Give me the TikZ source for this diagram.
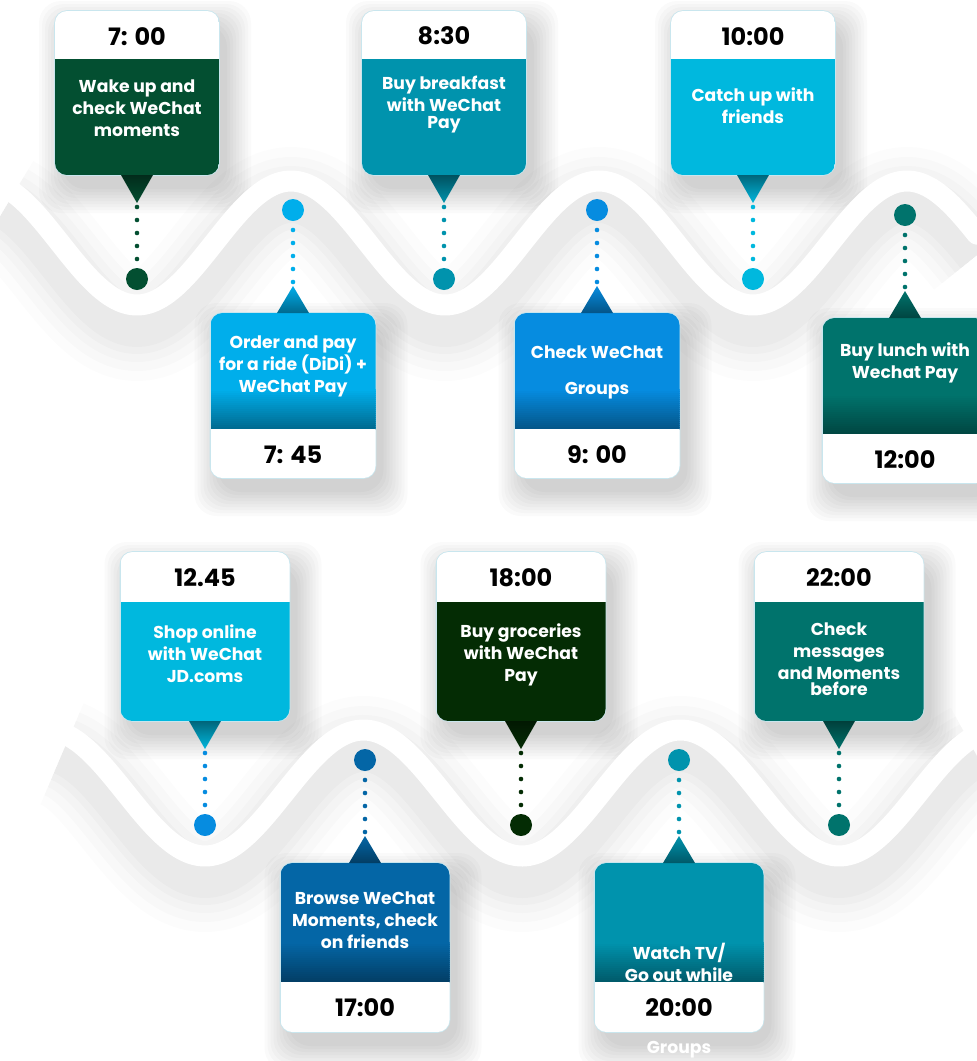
\documentclass[tikz,border=0pt]{standalone}
\usepackage{fontspec}
\setmainfont{Poppins}
\definecolor{forest}{HTML}{034F31}
\definecolor{sky}{HTML}{00AEEB}
\definecolor{teal}{HTML}{0093AD}
\definecolor{azure}{HTML}{068CE0}
\definecolor{aqua}{HTML}{00B8DE}
\definecolor{pine}{HTML}{00736C}
\definecolor{navy}{HTML}{0466A6}
\definecolor{night}{HTML}{042C04}
\definecolor{rim}{HTML}{C9E6EE}
\tikzset{
  cardshade/.style={black,opacity=0.02,rounded corners=22pt},
  cardline/.style={draw=rim,line width=1.6pt,rounded corners=12pt},
  timelbl/.style={font=\fontsize{24}{28}\selectfont\bfseries,text=black},
  actlbl/.style={font=\fontsize{17.2}{22}\selectfont\bfseries,text=white,align=center},
  dotline/.style={line width=4.6pt,line cap=round,dash pattern=on 0pt off 13pt},
  bead/.style={circle,inner sep=0pt,minimum size=22pt},
  wave/.style={line width=21pt,white,line cap=round},
}
\begin{document}
\begin{tikzpicture}[x=1pt,y=-1pt]
\useasboundingbox (0,0) rectangle (977,1061);
\fill[white] (0,0) rectangle (977,1061);
\begin{scope}
\clip (0,0) rectangle (977,1061);
% shadows of the cards
\foreach \cx/\ty/\s in {137/11/164,444/11/164,753/11/164,293/313/165,597/313/165,905/318/165,
  205/552/169,521/552/169,839/552/169,365/863/169,679/863/169}{
  \foreach \g in {0,...,8}
    \fill[cardshade] ({\cx-\s/2+8-\g*3},\ty+14-\g*3) rectangle ({\cx+\s/2+8+\g*3},\ty+\s+14+\g*3);
}
% shadows of the waves
\foreach \w/\o in {110/0.012,90/0.014,72/0.016,56/0.018,42/0.02}{
  \draw[line width=\w pt,black,opacity=\o] plot[domain=5:977,samples=150,smooth] (\x,{264+62*cos((\x-137)*1.16883)});
  \draw[line width=\w pt,black,opacity=\o] plot[domain=62:977,samples=150,smooth] (\x,{814+63*cos((\x-205)*1.13565)});
}
% waves
\draw[wave] plot[domain=5:977,samples=150,smooth] (\x,{243+62*cos((\x-137)*1.16883)});
\draw[wave] plot[domain=62:977,samples=150,smooth] (\x,{793+63*cos((\x-205)*1.13565)});
% cards above the waves
\foreach \n/\cx/\ty/\s/\col/\dc/\tm/\txt/\txy in {
  1/137/11/164/forest/forest/{7: 00}/{Wake up and\\check WeChat\\moments}/108,
  3/444/11/164/teal/teal/{8:30}/{Buy breakfast\\with WeChat\\[-5pt]Pay}/105,
  5/753/11/164/aqua/aqua/{10:00}/{Catch up with\\friends}/106,
  7/205/552/169/aqua/azure/{12.45}/{Shop online\\with WeChat\\JD.coms}/654,
  9/521/552/169/night/night/{18:00}/{Buy groceries\\with WeChat\\Pay}/655,
  11/839/552/169/pine/pine/{22:00}/{Check\\messages\\and Moments\\[-6pt]before}/659}{
  \pgfmathsetmacro\xl{\cx-\s/2}
  \pgfmathsetmacro\xr{\cx+\s/2}
  \pgfmathsetmacro\hb{\ty+0.295*\s}
  \pgfmathsetmacro\yb{\ty+\s}
  \draw[cardline] (\xl,\ty) rectangle (\xr,\yb);
  \begin{scope}
    \clip[rounded corners=12pt] (\xl,\ty) rectangle (\xr,\yb);
    \fill[white] (\xl,\ty) rectangle (\xr,\hb);
    \fill[\col] (\xl,\hb) rectangle (\xr,\yb);
  \end{scope}
  \shade[top color=\col!55!black,bottom color=\col] (\cx-16,\yb) -- (\cx+16,\yb) -- (\cx,\yb+28) -- cycle;
  \coordinate (tip\n) at (\cx,\yb+28);
  \node[bead,fill=\dc] (pt\n) at (\cx,\yb+104) {};
  \draw[dotline,\dc,shorten <=4pt,shorten >=8.5pt] (tip\n) -- (pt\n);
  \node[timelbl] (time\n) at (\cx,{(\ty+\hb)/2+1}) {\tm};
  \node[actlbl] (act\n) at (\cx,\txy) {\txt};
}
% cards below the waves
\foreach \n/\cx/\ty/\s/\col/\tm/\txt/\txy in {
  2/293/313/165/sky/{7: 45}/{Order and pay\\for a ride (DiDi) +\\WeChat Pay}/366,
  4/597/313/165/azure/{9: 00}/{Check WeChat\\[14pt]Groups}/372,
  6/905/318/165/pine/{12:00}/{Buy lunch with\\Wechat Pay}/363,
  8/365/863/169/navy/{17:00}/{Browse WeChat\\Moments, check\\on friends}/920,
  10/679/863/169/teal/{20:00}/{Watch TV/\\Go out while}/962}{
  \pgfmathsetmacro\xl{\cx-\s/2}
  \pgfmathsetmacro\xr{\cx+\s/2}
  \pgfmathsetmacro\hf{\ty+0.705*\s}
  \pgfmathsetmacro\yb{\ty+\s}
  \draw[cardline] (\xl,\ty) rectangle (\xr,\yb);
  \begin{scope}
    \clip[rounded corners=12pt] (\xl,\ty) rectangle (\xr,\yb);
    \fill[\col] (\xl,\ty) rectangle (\xr,\hf);
    \foreach \k in {0,...,19}{
      \pgfmathtruncatemacro\mix{100-\k*2}
      \fill[\col!\mix!black] (\xl,\hf-40+\k*2) rectangle (\xr,\hf-37.5+\k*2);
    }
    \node[actlbl] (act\n) at (\cx,\txy) {\txt};
    \fill[white] (\xl,\hf) rectangle (\xr,\yb);
  \end{scope}
  \shade[top color=\col,bottom color=\col!60!black] (\cx-16,\ty) -- (\cx+16,\ty) -- (\cx,\ty-27) -- cycle;
  \coordinate (tip\n) at (\cx,\ty-27);
  \node[bead,fill=\col] (pt\n) at (\cx,\ty-103) {};
  \draw[dotline,\col,shorten <=4pt,shorten >=8.5pt] (tip\n) -- (pt\n);
  \node[timelbl] (time\n) at (\cx,{(\hf+\yb)/2+1}) {\tm};
}
\node[actlbl] (act10b) at (679,1050) {Groups};
\end{scope}
\end{tikzpicture}
\end{document}
